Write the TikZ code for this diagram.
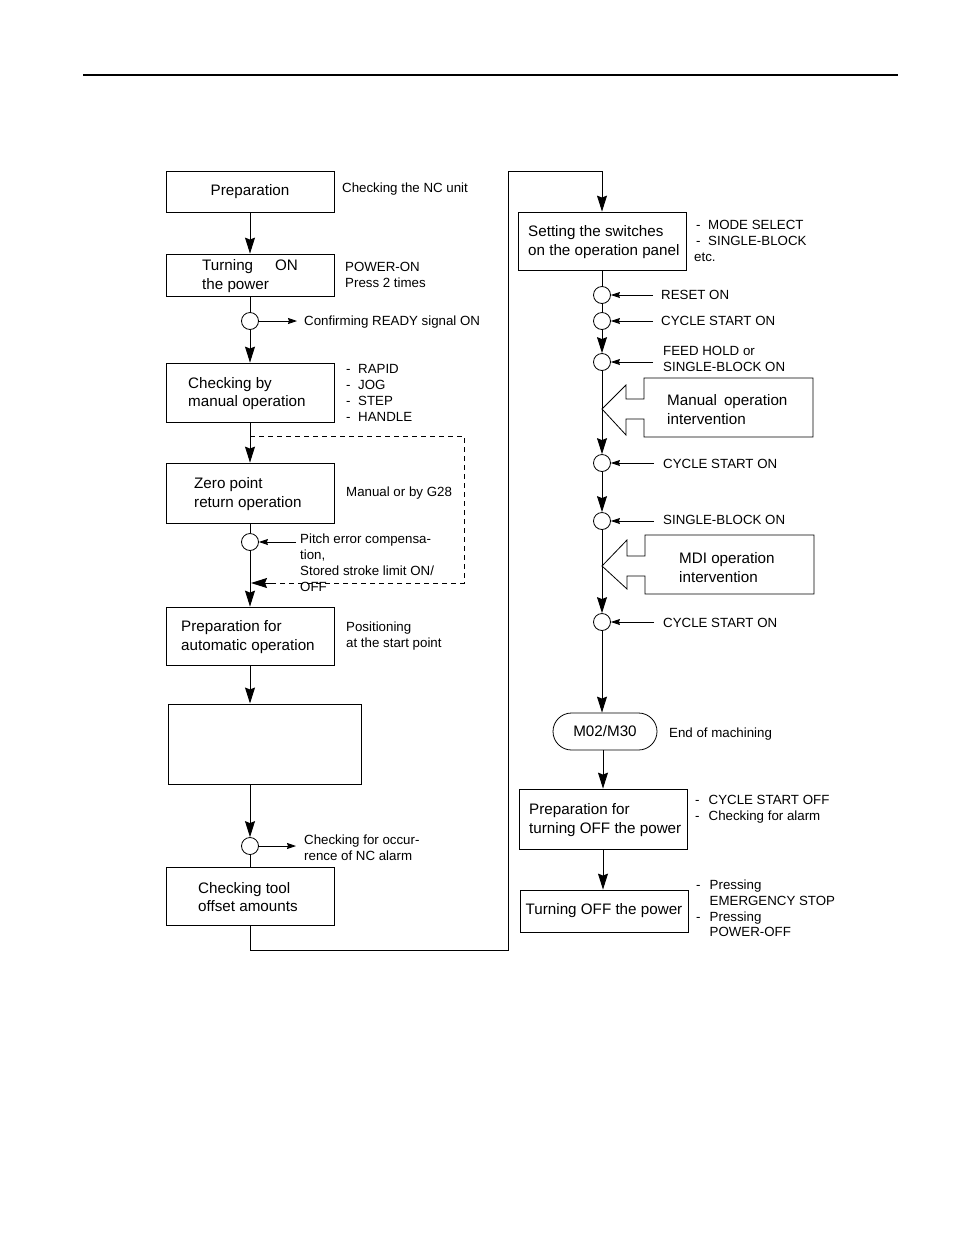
\documentclass[tikz,border=0pt]{standalone}
\usepackage{fontspec}
\setmainfont{Liberation Sans}
\usetikzlibrary{arrows.meta,shapes.misc}
\newcommand{\dsh}[1]{\makebox[12pt][l]{-}#1}
\newcommand{\dshb}[1]{\makebox[13.5pt][l]{-}#1}
\begin{document}
\begin{tikzpicture}[x=1pt,y=-1pt,
  box/.style={draw, line width=0.8pt, minimum width=168pt, inner sep=0pt},
  btxt/.style={font=\fontsize{15.2}{18.5}\selectfont, align=left, inner sep=0pt, anchor=west},
  lbl/.style={font=\fontsize{13.3}{16}\selectfont, align=left, inner sep=0pt, anchor=west},
  jn/.style={circle, draw, line width=0.8pt, minimum size=17pt, inner sep=0pt, fill=white},
  arr/.style={line width=0.9pt, -{Stealth[length=16pt,width=10pt,inset=2pt]}},
  sarr/.style={line width=0.8pt, -{Stealth[length=9pt,width=6pt,inset=1pt]}},
  ln/.style={line width=0.9pt},
  dsl/.style={line width=0.7pt, dash pattern=on 5pt off 4pt}
]
\useasboundingbox (0,0) rectangle (954,1235);
% header rule
\coordinate (h1) at (83,75);
\coordinate (h2) at (898,75);
\draw[line width=1.8pt] (h1) -- (h2);

% ---------------- left column ----------------
\node[box, minimum height=41pt, font=\fontsize{15.2}{18.5}\selectfont] (prep) at (250,191.5) {Preparation};
\node[lbl] (prepl) at (342,189) {Checking the NC unit};

\node[box, minimum height=42pt] (pow) at (250,275) {};
\node[btxt] (powt) at (202,276) {Turning\hspace{22pt}ON\\the power};
\node[lbl] (powl) at (345,275) {POWER-ON\\Press 2 times};

\node[jn] (c1) at (250,321) {};
\coordinate (c1e) at (297,321);
\node[lbl] (c1l) at (304,322) {Confirming READY signal ON};

\node[box, minimum height=59pt] (man) at (250,392.5) {};
\node[btxt] (mant) at (188,393.5) {Checking by\\manual operation};
\node[lbl] (manl) at (346,393) {\dsh{RAPID}\\\dsh{JOG}\\\dsh{STEP}\\\dsh{HANDLE}};

\node[box, minimum height=60pt] (zero) at (250,493) {};
\node[btxt] (zerot) at (194,494) {Zero point\\return operation};
\node[lbl] (zerol) at (346,493) {Manual or by G28};

\node[jn] (c2) at (250,542) {};
\coordinate (c2e) at (296,542);
\node[lbl] (c2l) at (300,563) {Pitch error compensa-\\tion,\\Stored stroke limit ON/\\OFF};

\node[box, minimum height=58pt] (auto) at (250,636) {};
\node[btxt] (autot) at (181,637) {Preparation for\\automatic operation};
\node[lbl] (autol) at (346,636) {Positioning\\at the start point};

\node[draw, line width=1pt, minimum width=193pt, minimum height=80pt, inner sep=0pt] (empty) at (264.5,744) {};

\node[jn] (c3) at (250,846) {};
\coordinate (c3e) at (296,846);
\node[lbl] (c3l) at (304,848) {Checking for occur-\\rence of NC alarm};

\node[box, minimum height=58pt] (tool) at (250,896) {};
\node[btxt] (toolt) at (198,897) {Checking tool\\offset amounts};

% left connectors
\draw[arr] (prep.south) -- (pow.north);
\draw[ln] (pow.south) -- (c1.north);
\draw[sarr] (c1.east) -- (c1e);
\draw[arr] (c1.south) -- (man.north);
\draw[arr] (man.south) -- (zero.north);
\coordinate (d0) at (250,436);
\coordinate (d1) at (464,436);
\coordinate (d2) at (464,583);
\coordinate (d2b) at (273,583);
\coordinate (d3) at (251,583);
\draw[dsl] (d0) -- (d1) -- (d2) -- (d2b);
\draw[arr] (d2b) -- (d3);
\draw[ln] (zero.south) -- (c2.north);
\draw[sarr] (c2e) -- (c2.east);
\draw[arr] (c2.south) -- (auto.north);
\draw[arr] (auto.south) -- (auto.south |- empty.north);
\draw[arr] (c3.north |- empty.south) -- (c3.north);
\draw[sarr] (c3.east) -- (c3e);
\draw[ln] (c3.south) -- (tool.north);

% loop to right column
\coordinate (l1) at (250,950);
\coordinate (l2) at (508,950);
\coordinate (l3) at (508,171);
\coordinate (l4) at (602,171);

% ---------------- right column ----------------
\node[box, minimum height=58pt] (set) at (602,241) {};
\node[btxt] (sett) at (528,242) {Setting the switches\\on the operation panel};
\node[lbl] (setl) at (694,241) {\hspace{2pt}\dsh{MODE SELECT}\\\hspace{2pt}\dsh{SINGLE-BLOCK}\\etc.};

\draw[arr] (tool.south) -- (l1) -- (l2) -- (l3) -- (l4) -- (set.north);

\node[jn] (c4) at (602,295) {};
\coordinate (c4e) at (653,295);
\node[lbl] (c4l) at (661,295) {RESET ON};

\node[jn] (c5) at (602,321) {};
\coordinate (c5e) at (653,321);
\node[lbl] (c5l) at (661,321) {CYCLE START ON};

\node[jn] (c6) at (602,362) {};
\coordinate (c6e) at (653,362);
\node[lbl] (c6l) at (663,359) {FEED HOLD or\\SINGLE-BLOCK ON};

% manual operation intervention block arrow
\draw[line width=0.8pt] (813,378) -- (644,378) -- (644,399) -- (626,399) -- (626,385) -- (602,409)
  -- (626,435) -- (626,419) -- (644,419) -- (644,437) -- (813,437) -- cycle;
\node[btxt] (mi) at (667,409.5) {Manual\hspace{7pt}operation\\intervention};

\node[jn] (c7) at (602,463) {};
\coordinate (c7e) at (654,463);
\node[lbl] (c7l) at (663,464) {CYCLE START ON};

\node[jn] (c8) at (602,521) {};
\coordinate (c8e) at (654,521);
\node[lbl] (c8l) at (663,520) {SINGLE-BLOCK ON};

% MDI operation intervention block arrow
\draw[line width=0.8pt] (814,535) -- (645,535) -- (645,556) -- (627,556) -- (627,540) -- (602,566)
  -- (627,589) -- (627,576) -- (645,576) -- (645,594) -- (814,594) -- cycle;
\node[btxt] (mdi) at (679,567.5) {MDI operation\\intervention};

\node[jn] (c9) at (602,622) {};
\coordinate (c9e) at (654,622);
\node[lbl] (c9l) at (663,623) {CYCLE START ON};

\node[rounded rectangle, draw, line width=0.8pt, minimum width=104pt, minimum height=37pt, inner sep=0pt,
  font=\fontsize{15.2}{18.5}\selectfont] (m02) at (605,731.5) {M02/M30};
\node[lbl] (m02l) at (669,734) {End of machining};

\node[box, minimum height=60pt] (poff) at (603,819) {};
\node[btxt] (pofft) at (529,820) {Preparation for\\turning OFF the power};
\node[lbl] (poffl) at (695,809) {\dshb{CYCLE START OFF}\\\dshb{Checking for alarm}};

\node[box, minimum height=42pt, font=\fontsize{15.2}{18.5}\selectfont] (off) at (604,911) {Turning OFF the power};
\node[lbl, font=\fontsize{13.3}{15.7}\selectfont] (offl) at (696,908.5) {\dshb{Pressing}\\\hspace*{13.5pt}EMERGENCY STOP\\\dshb{Pressing}\\\hspace*{13.5pt}POWER-OFF};

% right connectors
\draw[ln] (set.south -| c4) -- (c4.north);
\draw[sarr] (c4e) -- (c4.east);
\draw[ln] (c4.south) -- (c5.north);
\draw[sarr] (c5e) -- (c5.east);
\draw[arr] (c5.south) -- (c6.north);
\draw[sarr] (c6e) -- (c6.east);
\draw[arr] (c6.south) -- (c7.north);
\draw[sarr] (c7e) -- (c7.east);
\draw[arr] (c7.south) -- (c8.north);
\draw[sarr] (c8e) -- (c8.east);
\draw[arr] (c8.south) -- (c9.north);
\draw[sarr] (c9e) -- (c9.east);
\draw[arr] (c9.south) -- (c9.south |- m02.north);
\draw[arr] (m02.south -| poff) -- (poff.north);
\draw[arr] (poff.south) -- (poff.south |- off.north);
\end{tikzpicture}
\end{document}
